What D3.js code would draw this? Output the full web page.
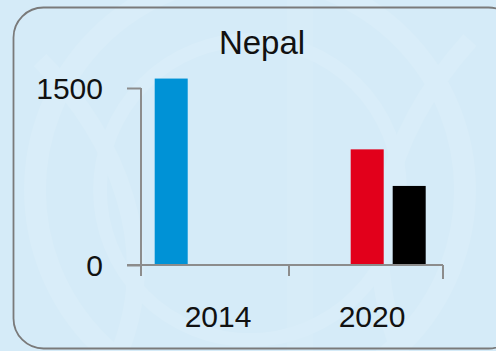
<!DOCTYPE html>
<html>
<head>
<meta charset="utf-8">
<script src="https://cdn.jsdelivr.net/npm/d3@7/dist/d3.min.js"></script>
<style>
  html, body { margin: 0; padding: 0; background: #d5ebf8; }
  svg { display: block; }
  text { font-family: "Liberation Sans", Arial, sans-serif; fill: #111; }
</style>
</head>
<body>
<svg id="chart" width="496" height="351"></svg>
<script>
// Data
const title = "Nepal";
const years = ["2014", "2020"];
const seriesNames = ["first", "second", "third"];
const seriesColors = ["#0092d6", "#e2001b", "#000000"];
// one value per series for each year; null where a series has no bar
const values2014 = [1580, null, null];
const values2020 = [null, 980, 670];
const yTicks = [0, 1500];

const rows = [
  { year: years[0], values: values2014 },
  { year: years[1], values: values2020 }
];

const svg = d3.select("#chart");
const W = 496, H = 351;

// Background and faint emblem watermark
svg.append("rect").attr("width", W).attr("height", H).attr("fill", "#d5ebf8");
const wm = svg.append("g").attr("fill", "none").attr("stroke", "#e3f3fc").attr("opacity", 0.3);
wm.append("circle").attr("cx", 250).attr("cy", 190).attr("r", 215).attr("stroke-width", 22);
wm.append("circle").attr("cx", 250).attr("cy", 190).attr("r", 150).attr("stroke-width", 14);
wm.append("path").attr("d", "M40,60 C120,140 160,250 120,351").attr("stroke-width", 18);
wm.append("path").attr("d", "M470,40 C380,140 360,250 400,351").attr("stroke-width", 18);
wm.append("path").attr("d", "M300,0 L300,351").attr("stroke-width", 26).attr("opacity", 0.5);

// Panel frame
svg.append("rect")
  .attr("x", 13.5).attr("y", 7.5)
  .attr("width", 505).attr("height", 341)
  .attr("rx", 30).attr("ry", 30)
  .attr("fill", "none")
  .attr("stroke", "#7a7a7a")
  .attr("stroke-width", 1.8);

// Scales
const yAxisX = 141;
const x = d3.scaleBand().domain(years).range([135, 443]).padding(0);
const xSub = d3.scaleBand().domain(seriesNames).range([19.7, 136.7]).paddingInner(0.214).paddingOuter(0);
const y = d3.scaleLinear().domain([0, 1500]).range([265, 88]);

// Title
svg.append("text")
  .attr("x", 262).attr("y", 54)
  .attr("text-anchor", "middle")
  .attr("font-size", 33)
  .text(title);

// Bars
const groups = svg.append("g").selectAll("g")
  .data(rows).join("g")
  .attr("transform", d => `translate(${x(d.year)},0)`);

groups.selectAll("rect")
  .data(d => d.values.map((v, i) => ({ key: seriesNames[i], value: v, color: seriesColors[i] }))
                     .filter(e => e.value != null))
  .join("rect")
  .attr("x", d => xSub(d.key))
  .attr("width", xSub.bandwidth())
  .attr("y", d => y(d.value))
  .attr("height", d => y(0) - y(d.value))
  .attr("fill", d => d.color);

const axisColor = "#8c8c8c";

// Y axis (its line runs on past the baseline)
const yAxis = svg.append("g")
  .attr("transform", `translate(${yAxisX},0)`)
  .call(d3.axisLeft(y).tickValues(yTicks).tickFormat(d3.format("d")).tickSize(14).tickSizeOuter(0).tickPadding(24));
yAxis.select(".domain").remove();
yAxis.append("line")
  .attr("y1", y(1500)).attr("y2", y(0) + 11)
  .attr("stroke", axisColor).attr("stroke-width", 2);
yAxis.selectAll(".tick line").attr("stroke", axisColor).attr("stroke-width", 2);
yAxis.selectAll(".tick text").attr("font-size", 30).attr("fill", "#111")
  .attr("font-family", "Liberation Sans, Arial, sans-serif").attr("dy", "0.36em");

// X axis: line with ticks at category boundaries, labels centred on each year
const xAxis = svg.append("g").attr("transform", `translate(0,${y(0)})`);
xAxis.append("line")
  .attr("x1", yAxisX - 14).attr("x2", x.range()[1])
  .attr("stroke", axisColor).attr("stroke-width", 2);
const bounds = years.map(d => x(d) + x.bandwidth());
xAxis.selectAll("line.bound")
  .data(bounds).join("line").attr("class", "bound")
  .attr("x1", d => d).attr("x2", d => d)
  .attr("y1", 0).attr("y2", (d, i) => i === 0 ? 11 : 14)
  .attr("stroke", axisColor).attr("stroke-width", 2);
xAxis.selectAll("text.yr")
  .data(years).join("text").attr("class", "yr")
  .attr("x", d => x(d) + x.bandwidth() / 2 + 6)
  .attr("y", 62)
  .attr("text-anchor", "middle")
  .attr("font-size", 30)
  .text(d => d);
</script>
</body>
</html>
